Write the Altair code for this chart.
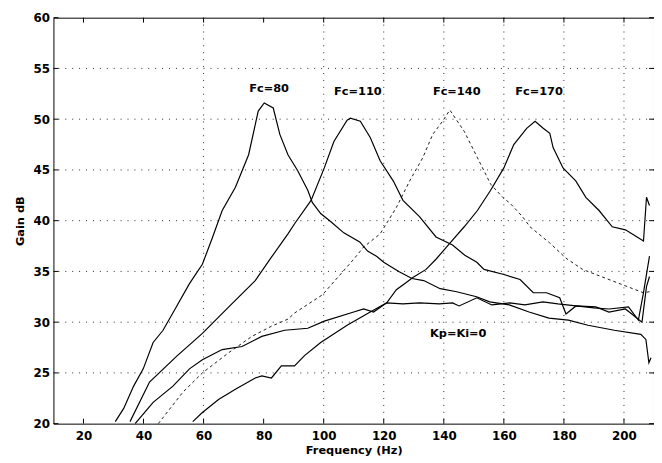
import altair as alt
import pandas as pd

# ---- data ----
fc80_f = [30.6, 33.4, 36.7, 39.9, 43.2, 46.5, 50.9, 55.3, 59.6, 62.9, 66.2, 70.6, 75.0, 78.2, 80.2,
          83.2, 85.4, 88.1, 91.4, 94.7, 96.2, 99.0, 102.4, 106.7, 112.0, 114.6, 117.6, 120.0, 125.0,
          129.4, 133.3, 138.8, 144.3, 150.9, 155.3, 161.8, 168.4, 175.0, 181.5, 188.0, 196.8, 205.6,
          207.3, 208.3, 209.0]
fc80_g = [20.2, 21.5, 23.7, 25.4, 28.0, 29.2, 31.5, 33.8, 35.7, 38.3, 41.0, 43.3, 46.5, 50.8, 51.6,
          51.1, 48.5, 46.5, 44.9, 43.0, 41.8, 40.7, 39.9, 38.8, 37.9, 37.0, 36.5, 35.9, 35.0,
          34.3, 34.1, 33.3, 33.0, 32.5, 32.0, 31.7, 31.0, 30.4, 30.2, 29.7, 29.2, 28.8,
          28.3, 26.0, 26.5]

fc110_f = [35.5, 42.0, 50.9, 59.6, 68.4, 77.2, 82.6, 88.1, 90.3, 95.8, 100.2, 103.4, 107.8, 108.9,
           112.2, 115.5, 118.8, 123.2, 126.4, 131.9, 137.4, 142.9, 147.0, 151.0, 153.4, 160.0, 165.4,
           169.8, 174.2, 178.6, 180.7, 184.0, 190.6, 195.0, 200.5, 206.0, 207.5, 208.5]
fc110_g = [20.2, 24.1, 26.6, 28.9, 31.5, 34.1, 36.4, 38.7, 39.7, 42.0, 45.2, 47.8, 49.9, 50.1,
           49.8, 48.2, 45.9, 43.9, 42.0, 40.4, 38.4, 37.6, 36.6, 35.9, 35.2, 34.7, 34.2,
           32.9, 32.9, 32.4, 30.8, 31.6, 31.5, 31.0, 31.3, 30.0, 33.5, 34.5]

fc140_f = [44.9, 53.1, 59.6, 68.4, 76.1, 82.6, 88.1, 90.3, 99.6, 110.0, 113.3, 118.8, 124.2, 128.6,
           133.0, 136.3, 139.6, 142.0, 146.8, 151.2, 155.6, 159.6, 162.1, 166.2, 168.7, 175.3, 180.7,
           186.2, 195.0, 203.8, 206.5, 208.5]
fc140_g = [20.0, 23.1, 25.0, 27.0, 28.6, 29.6, 30.3, 30.9, 32.7, 36.2, 37.4, 38.7, 41.3, 43.9,
           46.2, 48.5, 49.8, 50.9, 48.8, 46.2, 43.6, 42.3, 41.7, 40.4, 39.4, 37.8, 36.3,
           35.2, 34.2, 33.2, 32.9, 33.0]

fc170_f = [56.4, 59.6, 65.1, 70.6, 77.2, 79.4, 82.6, 85.9, 90.3, 93.6, 99.0, 107.8, 115.5, 121.0,
           124.2, 127.5, 129.7, 134.1, 137.4, 142.4, 146.8, 151.2, 155.6, 160.0, 163.3, 167.6, 170.4,
           173.1, 175.3, 176.4, 179.7, 184.0, 187.3, 191.7, 196.1, 200.5, 204.9, 206.5, 207.5, 208.5]
fc170_g = [20.2, 21.1, 22.4, 23.4, 24.5, 24.7, 24.5, 25.7, 25.7, 26.7, 28.0, 29.7, 31.0, 31.9,
           33.2, 33.9, 34.4, 35.2, 36.2, 37.9, 39.4, 41.0, 43.0, 45.2, 47.5, 49.1, 49.8,
           49.1, 48.6, 47.2, 45.2, 43.9, 42.3, 41.0, 39.4, 39.1, 38.3, 38.0, 42.3, 41.5]

kp0_f = [37.2, 43.2, 49.8, 55.3, 59.6, 66.2, 72.8, 79.4, 87.0, 94.7, 100.2, 110.0, 113.3, 116.6,
         121.0, 126.4, 131.9, 138.5, 142.9, 145.1, 151.0, 156.0, 162.0, 167.0, 173.0, 178.0, 184.0,
         190.0, 195.0, 201.5, 204.8, 206.5, 208.5]
kp0_g = [20.0, 22.1, 23.7, 25.4, 26.3, 27.3, 27.6, 28.6, 29.2, 29.4, 30.1, 31.0, 31.3, 31.0,
         31.9, 31.8, 31.9, 31.8, 31.9, 31.6, 32.4, 31.7, 31.9, 31.7, 32.0, 31.8, 31.6,
         31.4, 31.3, 31.5, 30.2, 32.9, 36.5]

label_text = ["Fc=80", "Fc=110", "Fc=140", "Fc=170", "Kp=Ki=0"]
label_f = [81.8, 111.4, 144.3, 171.7, 144.8]
label_g = [53.0, 52.7, 52.7, 52.7, 28.8]

x_ticks = [20, 40, 60, 80, 100, 120, 140, 160, 180, 200]
y_ticks = [20, 25, 30, 35, 40, 45, 50, 55, 60]
x_grid = [60, 100, 120, 140, 160, 180, 200]
y_grid = [25, 30, 35, 40, 45, 50, 55]

# ---- tables ----
def table(name, fs, gs):
    return pd.DataFrame({"series": name, "f": fs, "g": gs, "i": list(range(len(fs)))})

solid_df = pd.concat([
    table("Fc=80", fc80_f, fc80_g),
    table("Fc=110", fc110_f, fc110_g),
    table("Fc=170", fc170_f, fc170_g),
    table("Kp=Ki=0", kp0_f, kp0_g),
])
dash_df = table("Fc=140", fc140_f, fc140_g)
labels_df = pd.DataFrame({"t": label_text, "f": label_f, "g": label_g})

FONT = "DejaVu Sans"
W, H = 608, 411

xscale = alt.Scale(domain=[10, 210], nice=False, zero=False)
yscale = alt.Scale(domain=[20, 60], nice=False, zero=False)
xaxis = alt.Axis(values=x_ticks, title="Frequency (Hz)", grid=False, ticks=False, domain=False,
                 labelPadding=7, titlePadding=3, format="d")
yaxis = alt.Axis(values=y_ticks, title="Gain dB", grid=False, ticks=False, domain=False,
                 labelPadding=4, titlePadding=8, format="d")
X = alt.X("f:Q", scale=xscale, axis=xaxis)
Y = alt.Y("g:Q", scale=yscale, axis=yaxis)

grid_style = dict(color="black", strokeDash=[1, 6], strokeWidth=1, opacity=0.85)
vgrid = alt.Chart(pd.DataFrame({"f": x_grid})).mark_rule(**grid_style).encode(x=X)
hgrid = alt.Chart(pd.DataFrame({"g": y_grid})).mark_rule(**grid_style).encode(y=Y)

xt = pd.DataFrame({"f": x_ticks})
yt = pd.DataFrame({"g": y_ticks})
tick_style = dict(color="black", strokeWidth=1)
bticks = alt.Chart(xt).mark_rule(**tick_style).encode(x=X, y=alt.value(H), y2=alt.value(H - 5))
tticks = alt.Chart(xt).mark_rule(**tick_style).encode(x=X, y=alt.value(0), y2=alt.value(5))
lticks = alt.Chart(yt).mark_rule(**tick_style).encode(y=Y, x=alt.value(0), x2=alt.value(5))
rticks = alt.Chart(yt).mark_rule(**tick_style).encode(y=Y, x=alt.value(W), x2=alt.value(W - 5))

solid = alt.Chart(solid_df).mark_line(color="black", strokeWidth=1.2, clip=True).encode(
    x=X, y=Y, detail="series:N", order="i:Q")
dashed = alt.Chart(dash_df).mark_line(color="black", strokeWidth=0.9, strokeDash=[3, 3], clip=True).encode(
    x=X, y=Y, order="i:Q")

texts = alt.Chart(labels_df).mark_text(font=FONT, fontSize=11.5, fontWeight="bold", color="black").encode(
    x=X, y=Y, text="t:N")

chart = alt.layer(vgrid, hgrid, bticks, tticks, lticks, rticks, solid, dashed, texts).properties(
    width=W, height=H,
    autosize=alt.AutoSizeParams(type="none"),
    padding={"left": 46, "top": 7, "right": 0, "bottom": 35},
).configure_view(
    stroke="black", strokeWidth=1
).configure_axis(
    labelFont=FONT, titleFont=FONT, labelFontSize=12, titleFontSize=11.5,
    labelFontWeight="bold", titleFontWeight="bold",
    labelColor="black", titleColor="black"
)

chart.save("out.html", embed_options={"renderer": "svg", "actions": False})
